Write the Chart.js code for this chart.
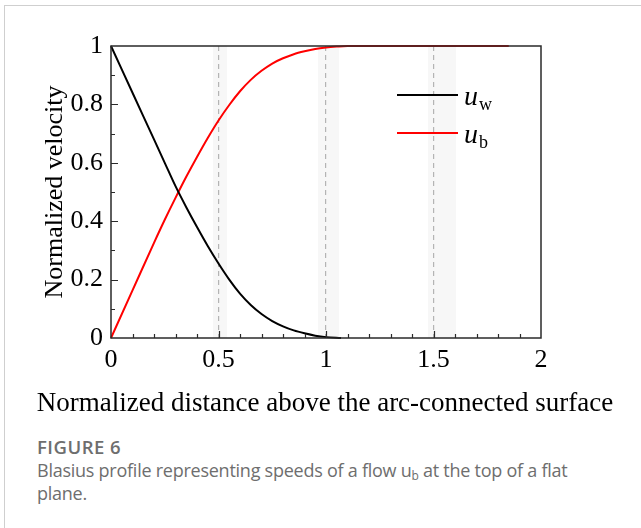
<!DOCTYPE html>
<html>
<head>
<meta charset="utf-8">
<script src="https://cdn.jsdelivr.net/npm/chart.js@4.4.1/dist/chart.umd.min.js"></script>
<style>
  html, body { margin: 0; padding: 0; background: #fff; }
  body { width: 641px; height: 528px; position: relative; overflow: hidden; }
  .card { position: absolute; left: 4px; top: 5px; width: 700px; height: 600px;
          border-top: 1px solid #cfcfcf; border-left: 1px solid #cfcfcf; }
  #wrap { position: absolute; left: 0; top: 0; width: 641px; height: 430px; }
  .caption { position: absolute; left: 37px; top: 435px; width: 570px;
             font-family: "Open Sans", sans-serif; color: #6e6e6e; }
  .caption .fig { font-size: 18.5px; font-weight: 600; line-height: 24px; letter-spacing: 0.5px; }
  .caption .txt { font-size: 18px; line-height: 23px; letter-spacing: -0.25px; }
  .caption sub { font-size: 12px; vertical-align: -3px; line-height: 0; }
</style>
</head>
<body>
<div class="card"></div>
<div id="wrap"><canvas id="c" width="641" height="430"></canvas></div>
<div class="caption">
  <div class="fig">FIGURE 6</div>
  <div class="txt">Blasius profile representing speeds of a flow u<sub>b</sub> at the top of a flat plane.</div>
</div>
<script>
// valores
const distW = [0, 0.1, 0.2, 0.25, 0.3, 0.35, 0.4, 0.45, 0.5, 0.55, 0.6, 0.65, 0.7, 0.75, 0.8, 0.85, 0.9, 0.95, 1.0, 1.07];
const velW  = [1, 0.84, 0.68, 0.6, 0.52, 0.448, 0.38, 0.315, 0.255, 0.2, 0.152, 0.113, 0.082, 0.058, 0.04, 0.026, 0.016, 0.008, 0.003, 0];

const distB = [0, 0.1, 0.2, 0.25, 0.3, 0.35, 0.4, 0.45, 0.5, 0.55, 0.6, 0.65, 0.7, 0.75, 0.8, 0.85, 0.9, 0.95, 1.0, 1.05, 1.1, 1.85];
const velB  = [0, 0.163, 0.326, 0.405, 0.48, 0.552, 0.62, 0.685, 0.745, 0.798, 0.845, 0.884, 0.915, 0.94, 0.958, 0.972, 0.982, 0.99, 0.995, 0.998, 1, 1];

const xTicks = [0, 0.5, 1, 1.5, 2];
const yTicks = [0, 0.2, 0.4, 0.6, 0.8, 1];
const seriesNames = [['u', 'w'], ['u', 'b']];
const seriesColors = ['#000000', '#ff0000'];
const xTitle = 'Normalized distance above the arc-connected surface';
const yTitle = 'Normalized velocity';

const serif = '"Liberation Serif", "Times New Roman", serif';

function toPoints(xs, ys) {
  return xs.map((x, i) => ({ x: x, y: ys[i] }));
}

// bandas grises claras junto a las líneas punteadas
const bands = [[0.474, 0.54], [0.963, 1.06], [1.474, 1.605]];

const frameAndTicks = {
  id: 'frameAndTicks',
  beforeDraw(chart) {
    const { ctx, chartArea: a, scales: { x } } = chart;
    ctx.save();
    ctx.fillStyle = '#f7f7f7';
    bands.forEach(b => {
      const x0 = x.getPixelForValue(b[0]);
      const x1 = x.getPixelForValue(b[1]);
      ctx.fillRect(x0, a.top, x1 - x0, a.bottom - a.top);
    });
    ctx.restore();
  },
  afterDraw(chart) {
    const { ctx, chartArea: a, scales: { x, y } } = chart;
    ctx.save();
    ctx.strokeStyle = '#2a2a2a';
    ctx.lineWidth = 1.5;
    ctx.strokeRect(a.left, a.top, a.right - a.left, a.bottom - a.top);
    ctx.lineWidth = 1.2;
    ctx.beginPath();
    for (let i = 1; i < 20; i++) {
      const px = Math.round(x.getPixelForValue(i / 10)) + 0.5;
      const len = i % 5 === 0 ? 7 : 4;
      ctx.moveTo(px, a.bottom);
      ctx.lineTo(px, a.bottom - len);
    }
    for (let i = 1; i < 10; i++) {
      const py = Math.round(y.getPixelForValue(i / 10)) + 0.5;
      const len = i % 2 === 0 ? 7 : 4;
      ctx.moveTo(a.left, py);
      ctx.lineTo(a.left + len, py);
    }
    ctx.stroke();

    // título del eje x (más ancho que el área del gráfico)
    ctx.fillStyle = '#000';
    ctx.font = '27px ' + serif;
    ctx.textAlign = 'center';
    ctx.textBaseline = 'alphabetic';
    ctx.fillText(xTitle, 325, 411);

    // leyenda
    const lx0 = 397, lx1 = 458;
    const rows = [95, 133];
    chart.data.datasets.forEach((ds, i) => {
      const ly = rows[i];
      ctx.strokeStyle = ds.borderColor;
      ctx.lineWidth = 2;
      ctx.beginPath();
      ctx.moveTo(lx0, ly);
      ctx.lineTo(lx1, ly);
      ctx.stroke();
      ctx.fillStyle = '#000';
      ctx.textAlign = 'left';
      ctx.font = 'italic 28px ' + serif;
      const main = seriesNames[i][0];
      ctx.fillText(main, 464, ly + 10);
      const w = ctx.measureText(main).width;
      ctx.font = '18px ' + serif;
      ctx.fillText(seriesNames[i][1], 464 + w + 1, ly + 15);
    });
    ctx.restore();
  }
};

new Chart(document.getElementById('c'), {
  type: 'line',
  data: {
    datasets: [
      { label: 'uw', data: toPoints(distW, velW), borderColor: seriesColors[0], borderWidth: 2,
        pointRadius: 0, cubicInterpolationMode: 'monotone', fill: false },
      { label: 'ub', data: toPoints(distB, velB), borderColor: seriesColors[1], borderWidth: 2,
        pointRadius: 0, cubicInterpolationMode: 'monotone', fill: false }
    ]
  },
  plugins: [frameAndTicks],
  options: {
    responsive: false,
    animation: false,
    clip: false,
    layout: { padding: { top: 46, right: 100, left: 0, bottom: 0 } },
    plugins: { legend: { display: false }, tooltip: { enabled: false } },
    scales: {
      x: {
        type: 'linear', min: 0, max: 2,
        afterFit(s) { s.height = 92; },
        afterBuildTicks(s) { s.ticks = xTicks.map(v => ({ value: v })); },
        grid: {
          drawTicks: false,
          color: c => (c.tick && c.tick.value > 0 && c.tick.value < 2) ? '#b4b4b4' : 'rgba(0,0,0,0)',
          lineWidth: 1.2
        },
        border: { display: false, dash: [5, 4] },
        ticks: { color: '#000', font: { family: serif, size: 26 }, padding: 7, maxRotation: 0,
                 callback: v => String(v) },
        title: { display: false }
      },
      y: {
        type: 'linear', min: 0, max: 1,
        afterFit(s) { s.width = 111; },
        afterBuildTicks(s) { s.ticks = yTicks.map(v => ({ value: v })); },
        grid: { display: false, drawTicks: false },
        border: { display: false },
        ticks: { color: '#000', font: { family: serif, size: 26 }, padding: 8,
                 callback: v => String(v) },
        title: { display: true, text: yTitle,
                 color: '#000', font: { family: serif, size: 26 }, padding: { top: 40, bottom: 0 } }
      }
    }
  }
});
</script>
</body>
</html>
